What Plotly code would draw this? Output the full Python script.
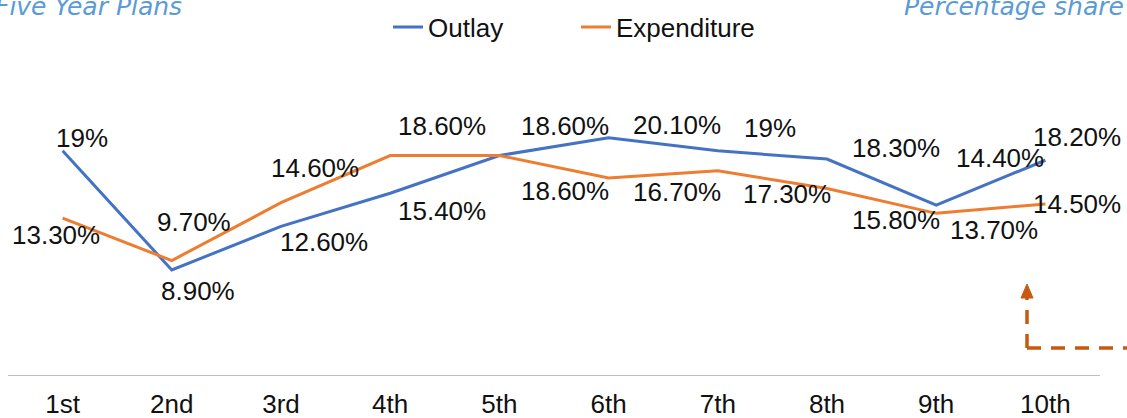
import plotly.graph_objects as go

plans = ["1st", "2nd", "3rd", "4th", "5th", "6th", "7th", "8th", "9th", "10th"]
outlay = [19, 8.9, 12.6, 15.4, 18.6, 20.1, 19, 18.3, 14.4, 18.2]
expenditure = [13.3, 9.7, 14.6, 18.6, 18.6, 16.7, 17.3, 15.8, 13.7, 14.5]

# label pixel offsets (style only)
out_dx = [19, 26, 43, 52, 66, 68, 52, 69, 64, 32]
out_dy = [-13, 21, 16, 18, -30, -13, -23, -11, -47, -23]
exp_dx = [-7, 22, 34, 52, 66, 68, 69, 69, 58, 32]
exp_dy = [17, -39, -35, -30, 35, 14, 23, 31, 17, 0]

BLUE = "#4472C4"
ORANGE = "#ED7D31"
DARK_OR = "#C55A11"
TITLE_C = "#5B9BD5"
FONT = "Liberation Sans, Arial"

W, H = 1127, 418
L, R, T, B = 8, 27, 80, 43
PW = W - L - R
PH = H - T - B


def fmt(v):
    return f"{int(v)}%" if float(v).is_integer() else f"{v:.2f}%"


def px_x(px):
    return (px - L) / PW


def px_y(py):
    return (H - B - py) / PH


fig = go.Figure()
fig.add_trace(go.Scatter(x=plans, y=outlay, mode="lines", name="Outlay",
                         line=dict(color=BLUE, width=3)))
fig.add_trace(go.Scatter(x=plans, y=expenditure, mode="lines", name="Expenditure",
                         line=dict(color=ORANGE, width=3)))

anns = []
for i, p in enumerate(plans):
    anns.append(dict(x=p, y=outlay[i], xref="x", yref="y", text=fmt(outlay[i]),
                     showarrow=False, xshift=out_dx[i], yshift=-out_dy[i],
                     font=dict(size=26, color="#111111", family=FONT)))
    anns.append(dict(x=p, y=expenditure[i], xref="x", yref="y", text=fmt(expenditure[i]),
                     showarrow=False, xshift=exp_dx[i], yshift=-exp_dy[i],
                     font=dict(size=26, color="#111111", family=FONT)))

anns.append(dict(x=px_x(184), y=px_y(23), xref="paper", yref="paper", xanchor="right",
                 yanchor="bottom", text="<i>Five Year Plans</i>", showarrow=False,
                 font=dict(size=25, color=TITLE_C, family="DejaVu Sans")))
anns.append(dict(x=px_x(1126), y=px_y(23), xref="paper", yref="paper", xanchor="right",
                 yanchor="bottom", text="<i>Percentage share</i>", showarrow=False,
                 font=dict(size=25, color=TITLE_C, family="DejaVu Sans")))

shapes = [
    dict(type="line", xref="paper", yref="paper", x0=px_x(1027), x1=px_x(1127),
         y0=px_y(348), y1=px_y(348), line=dict(color=DARK_OR, width=3.5, dash="14px,10px")),
    dict(type="line", xref="paper", yref="paper", x0=px_x(1027), x1=px_x(1027),
         y0=px_y(348), y1=px_y(297), line=dict(color=DARK_OR, width=3.5, dash="14px,10px")),
    dict(type="path", xref="paper", yref="paper",
         path=f"M {px_x(1021)} {px_y(298)} L {px_x(1033)} {px_y(298)} L {px_x(1027)} {px_y(284)} Z",
         fillcolor=DARK_OR, line=dict(color=DARK_OR, width=1)),
]

fig.update_layout(
    width=W, height=H,
    margin=dict(l=L, r=R, t=T, b=B, autoexpand=False),
    paper_bgcolor="white", plot_bgcolor="white",
    showlegend=True,
    legend=dict(orientation="h", x=px_x(388), xanchor="left", y=px_y(27), yanchor="middle",
                font=dict(size=26, color="#111111", family=FONT),
                bgcolor="rgba(0,0,0,0)", itemwidth=30, entrywidth=143),
    annotations=anns,
    shapes=shapes,
    xaxis=dict(showgrid=False, zeroline=False, showline=True, linecolor="#BFBFBF", linewidth=1,
               ticks="", ticklabelstandoff=6, automargin=False,
               tickfont=dict(size=26, color="#111111", family=FONT),
               range=[-0.5, 9.5]),
    yaxis=dict(range=[0, 25], showgrid=False, zeroline=False, showline=False,
               showticklabels=False, ticks="", automargin=False),
)

fig.write_html("out.html")
